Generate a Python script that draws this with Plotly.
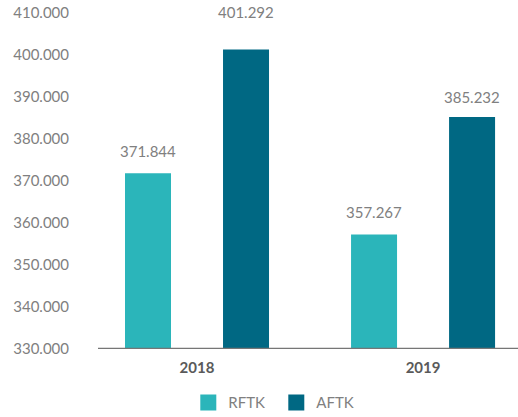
import plotly.graph_objects as go

# Data
years = ["2018", "2019"]
rftk = [371844, 357267]
aftk = [401292, 385232]
series_names = ["RFTK", "AFTK"]
y_ticks = [330000, 340000, 350000, 360000, 370000, 380000, 390000, 400000, 410000]

colors = {"RFTK": "#2bb5ba", "AFTK": "#006883"}
label_color = "#808080"
font_family = "Lato, 'Open Sans', sans-serif"

bar_w = 0.2035
half_sep = 0.2168
series = [("RFTK", rftk, -half_sep), ("AFTK", aftk, half_sep)]
# extra lift (px) for value labels, per series/year
label_lift = {"RFTK": [22, 22], "AFTK": [38, 20]}


def fmt(v):
    return f"{v:,}".replace(",", ".")


fig = go.Figure()
for name, vals, shift in series:
    fig.add_trace(go.Bar(
        x=years, y=vals, name=name,
        marker=dict(color=colors[name], line=dict(width=0)),
        width=bar_w, offset=shift - bar_w / 2,
        showlegend=False, hoverinfo="skip",
    ))
    # legend entries with larger square swatches
    fig.add_trace(go.Scatter(
        x=[None], y=[None], mode="markers", name=name,
        marker=dict(symbol="square", size=16, color=colors[name]),
        showlegend=True,
    ))

annotations = []
for name, vals, shift in series:
    for i, v in enumerate(vals):
        annotations.append(dict(
            x=i + shift, y=v, xref="x", yref="y",
            text=fmt(v), showarrow=False,
            yanchor="middle", yshift=label_lift[name][i],
            font=dict(family=font_family, size=15, color=label_color),
        ))

fig.update_layout(
    width=518, height=417,
    margin=dict(l=98, r=0, t=13, b=68, autoexpand=False),
    paper_bgcolor="white", plot_bgcolor="white",
    separators=",.",
    barmode="overlay",
    annotations=annotations,
    font=dict(family=font_family, color=label_color),
    legend=dict(
        orientation="h", x=0.215, xanchor="left",
        yref="container", y=0.034, yanchor="middle",
        font=dict(family=font_family, size=15, color=label_color),
        itemwidth=30, traceorder="normal",
        entrywidth=43, entrywidthmode="pixels",
    ),
    xaxis=dict(
        type="category", range=[-0.438, 1.420],
        showgrid=False, zeroline=False,
        showline=False, ticks="",
        tickfont=dict(family=font_family, size=15, color="#5a5a5a", weight="bold"),
        ticklabelstandoff=8,
    ),
    yaxis=dict(
        range=[330000, 410000], tickvals=y_ticks, tickformat=",.0f",
        showgrid=False, zeroline=False, showline=False, ticks="",
        tickfont=dict(family=font_family, size=15, color=label_color),
        ticklabelstandoff=28,
    ),
    shapes=[dict(
        type="line", xref="paper", yref="y", x0=0, x1=1, y0=330000, y1=330000,
        line=dict(color="#767676", width=2.5),
    )],
)

fig.write_html("out.html")
